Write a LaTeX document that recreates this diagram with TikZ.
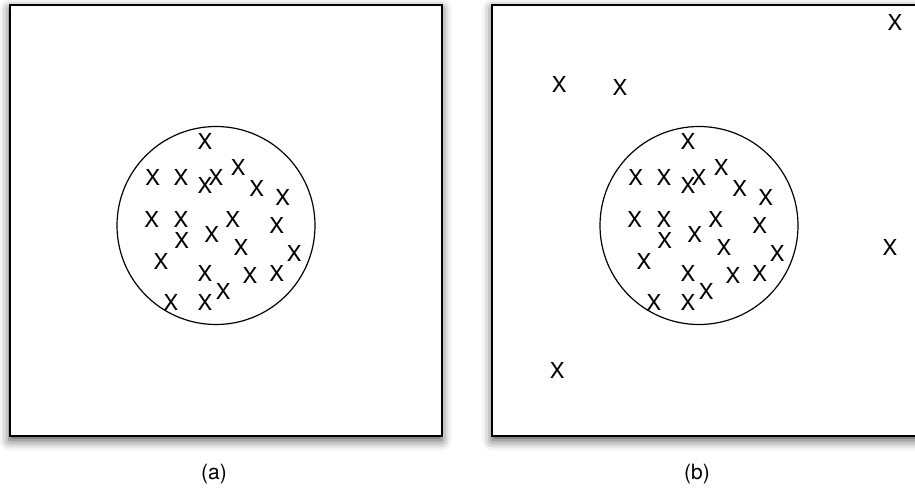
\documentclass[tikz,border=0pt]{standalone}
\usepackage{fontspec}
\setmainfont{TeX Gyre Heros}
\usetikzlibrary{shadows.blur}
\tikzset{
  panel/.style={draw, line width=1.8pt, fill=white, minimum width=432pt, minimum height=431pt, inner sep=0pt,
    blur shadow={shadow xshift=0pt, shadow yshift=-4pt, shadow blur radius=10pt, shadow opacity=70}},
  cluster/.style={draw, circle, line width=1.2pt, minimum size=198pt, inner sep=0pt},
  sample/.style={inner sep=0pt, font=\fontsize{22}{26}\selectfont},
  caption/.style={inner sep=0pt, font=\fontsize{21}{25}\selectfont}
}

\begin{document}
\begin{tikzpicture}[x=1pt, y=-1pt]
  \useasboundingbox (0,0) rectangle (915,490);
  % two panels with the same cluster
  \node[panel] (panelA) at (225.6,220.8) {};
  \node[panel] (panelB) at (708.1,220.8) {};
  \node[cluster] (clusterA) at (216,225.5) {};
  \node[cluster] (clusterB) at (699,225.5) {};
  % points inside the cluster
  \foreach \px/\py [count=\i] in {205/141.7, 152.7/177.3, 181/177.3, 205/185, 216/177.3,
      238.3/167.7, 256.7/188.3, 282.7/197.3, 151.7/219, 181/219, 232.7/219, 276.7/225.7,
      181.7/240, 211.7/234, 241/247.3, 161/261.7, 294.3/253.3, 205/273.3, 250/275,
      276.7/273.3, 223.3/291.7, 171/302.7, 205/302.7} {
    \node[sample] (ptA\i) at (\px,\py) {X};
    \node[sample] (ptB\i) at (\px+483,\py) {X};
  }
  % outliers in panel (b)
  \node[sample] (outB1) at (559.3,84) {X};
  \node[sample] (outB2) at (620,87.7) {X};
  \node[sample] (outB3) at (895,22.7) {X};
  \node[sample] (outB4) at (890,247.3) {X};
  \node[sample] (outB5) at (557.3,370.7) {X};
  % captions
  \node[caption] (capA) at (214,474) {(a)};
  \node[caption] (capB) at (697,474) {(b)};
\end{tikzpicture}
\end{document}
